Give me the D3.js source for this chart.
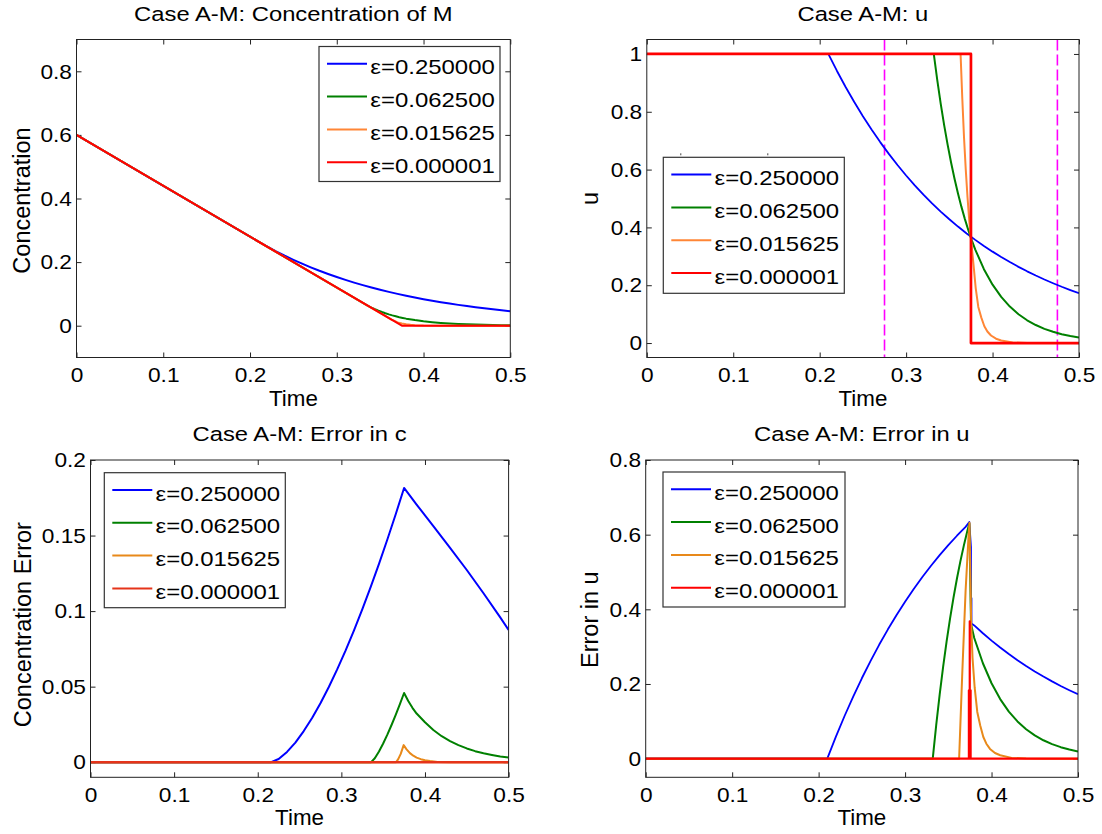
<!DOCTYPE html>
<html>
<head>
<meta charset="utf-8">
<script src="https://cdn.jsdelivr.net/npm/d3@7"></script>
<style>
  html, body { margin: 0; padding: 0; background: #fff; }
  svg { display: block; }
  text { font-family: "Liberation Sans", Arial, Helvetica, sans-serif; fill: #000; }
</style>
</head>
<body>
<svg id="chart" width="1102" height="834"></svg>
<script>
// ---------------- DATA ----------------
const legendLabels = ["ε=0.250000", "ε=0.062500", "ε=0.015625", "ε=0.000001"];
const xTicks = [0, 0.1, 0.2, 0.3, 0.4, 0.5];

// Panel 1: Concentration of M
const concBlue = [[0,0.6],[0.1,0.44],[0.21,0.264],[0.22,0.2485],[0.23,0.2339],[0.24,0.2201],[0.25,0.2072],[0.26,0.195],[0.27,0.1835],[0.28,0.1727],[0.29,0.1626],[0.3,0.153],[0.31,0.144],[0.32,0.1355],[0.33,0.1276],[0.34,0.1201],[0.35,0.113],[0.36,0.1064],[0.37,0.1001],[0.38,0.0942],[0.39,0.0887],[0.4,0.0835],[0.41,0.0786],[0.42,0.0739],[0.43,0.0696],[0.44,0.0655],[0.45,0.0616],[0.46,0.058],[0.47,0.0546],[0.48,0.0514],[0.49,0.0484],[0.5,0.0455]];
const concGreen = [[0,0.6],[0.2,0.28],[0.332,0.0688],[0.336,0.0626],[0.34,0.057],[0.344,0.0519],[0.348,0.0472],[0.352,0.043],[0.356,0.0391],[0.36,0.0356],[0.364,0.0324],[0.368,0.0295],[0.372,0.0268],[0.376,0.0244],[0.38,0.0222],[0.39,0.0176],[0.4,0.0139],[0.41,0.011],[0.42,0.0087],[0.43,0.0069],[0.44,0.0054],[0.45,0.0043],[0.46,0.0034],[0.47,0.0027],[0.48,0.0021],[0.49,0.0017],[0.5,0.0013]];
const concOrange = [[0,0.6],[0.363,0.0192],[0.366,0.0158],[0.37,0.0105],[0.375,0.0068],[0.38,0.0044],[0.385,0.0028],[0.39,0.0018],[0.4,0.0008],[0.42,0.0001],[0.5,0]];
const concRed = [[0,0.6],[0.375,0],[0.5,0]];
const concYTicks = [0, 0.2, 0.4, 0.6, 0.8];

// Panel 2: u
const uBlue = [[0,1],[0.21,1],[0.22,0.9412],[0.23,0.8858],[0.24,0.8338],[0.25,0.7847],[0.26,0.7386],[0.27,0.6951],[0.28,0.6543],[0.29,0.6158],[0.3,0.5796],[0.31,0.5455],[0.32,0.5134],[0.33,0.4832],[0.34,0.4548],[0.35,0.4281],[0.36,0.4029],[0.37,0.3792],[0.38,0.3569],[0.39,0.3359],[0.4,0.3162],[0.41,0.2976],[0.42,0.2801],[0.43,0.2636],[0.44,0.2481],[0.45,0.2335],[0.46,0.2198],[0.47,0.2069],[0.48,0.1947],[0.49,0.1833],[0.5,0.1725]];
const uGreen = [[0,1],[0.332,1],[0.336,0.9102],[0.34,0.8284],[0.344,0.754],[0.348,0.6863],[0.352,0.6247],[0.356,0.5686],[0.36,0.5175],[0.364,0.471],[0.368,0.4287],[0.372,0.3902],[0.376,0.3552],[0.38,0.3233],[0.39,0.2555],[0.4,0.2019],[0.41,0.1596],[0.42,0.1261],[0.43,0.0997],[0.44,0.0788],[0.45,0.0623],[0.46,0.0492],[0.47,0.0389],[0.48,0.0307],[0.49,0.0243],[0.5,0.0192]];
const uOrange = [[0,1],[0.363,1],[0.365,0.845],[0.367,0.71],[0.369,0.6],[0.371,0.505],[0.373,0.425],[0.375,0.362],[0.378,0.27],[0.3805,0.19],[0.3835,0.125],[0.387,0.088],[0.3905,0.058],[0.394,0.04],[0.3982,0.026],[0.404,0.015],[0.41,0.009],[0.4233,0.002],[0.44,0.0004],[0.46,0],[0.5,0]];
const uRed = [[0,1],[0.375,1],[0.375,0],[0.5,0]];
const uMarkerTimes = [0.275, 0.475];
const uYTicks = [0, 0.2, 0.4, 0.6, 0.8, 1];

// Panel 3: Error in c
const errCBlue = [[0,0],[0.216,0],[0.225,0.0021],[0.235,0.0068],[0.245,0.013],[0.255,0.0206],[0.265,0.0293],[0.275,0.039],[0.285,0.0498],[0.295,0.0614],[0.305,0.0738],[0.315,0.0871],[0.325,0.1011],[0.335,0.1158],[0.345,0.1313],[0.355,0.1474],[0.365,0.1641],[0.375,0.1815],[0.39,0.1705],[0.41,0.1562],[0.43,0.1418],[0.45,0.1272],[0.47,0.1118],[0.49,0.0958],[0.5,0.0875]];
const errCGreen = [[0,0],[0.3356,0],[0.34,0.0026],[0.345,0.0071],[0.35,0.0124],[0.355,0.0182],[0.36,0.0246],[0.365,0.0313],[0.37,0.0384],[0.375,0.0458],[0.38,0.0405],[0.385,0.036],[0.39,0.0322],[0.4,0.0264],[0.41,0.0213],[0.42,0.0172],[0.43,0.014],[0.44,0.0113],[0.45,0.0091],[0.46,0.0073],[0.47,0.0059],[0.48,0.0048],[0.49,0.0038],[0.5,0.0031]];
const errCOrange = [[0,0],[0.3655,0],[0.368,0.002],[0.371,0.0055],[0.3745,0.0113],[0.378,0.0085],[0.382,0.006],[0.386,0.0043],[0.39,0.003],[0.395,0.002],[0.4,0.0013],[0.406,0.0008],[0.415,0.0002],[0.43,0],[0.5,0]];
const errCRed = [[0,0],[0.5,0]];
const errCYTicks = [0, 0.05, 0.1, 0.15, 0.2];

// Panel 4: Error in u
const errUBlue = [[0,0],[0.21,0],[0.22,0.0588],[0.23,0.1142],[0.24,0.1662],[0.25,0.2153],[0.26,0.2614],[0.27,0.3049],[0.28,0.3457],[0.29,0.3842],[0.3,0.4204],[0.31,0.4545],[0.32,0.4866],[0.33,0.5168],[0.34,0.5452],[0.35,0.5719],[0.36,0.5971],[0.37,0.6208],[0.3743,0.634],[0.3762,0.567],[0.3762,0.43],[0.3768,0.43],[0.3768,0.362],[0.38,0.3569],[0.39,0.3359],[0.4,0.3162],[0.41,0.2976],[0.42,0.2801],[0.43,0.2636],[0.44,0.2481],[0.45,0.2335],[0.46,0.2198],[0.47,0.2069],[0.48,0.1947],[0.49,0.1833],[0.5,0.1725]];
const errUGreen = [[0,0],[0.332,0],[0.336,0.0898],[0.34,0.1716],[0.344,0.246],[0.348,0.3137],[0.352,0.3753],[0.356,0.4314],[0.36,0.4825],[0.364,0.529],[0.368,0.5713],[0.372,0.6098],[0.3743,0.63],[0.3763,0.36],[0.38,0.3233],[0.39,0.2555],[0.4,0.2019],[0.41,0.1596],[0.42,0.1261],[0.43,0.0997],[0.44,0.0788],[0.45,0.0623],[0.46,0.0492],[0.47,0.0389],[0.48,0.0307],[0.49,0.0243],[0.5,0.0192]];
const errUOrange = [[0,0],[0.3625,0],[0.366,0.22],[0.37,0.45],[0.3735,0.6],[0.3745,0.632],[0.3765,0.36],[0.378,0.27],[0.3805,0.19],[0.3835,0.125],[0.387,0.088],[0.3905,0.058],[0.394,0.04],[0.3982,0.026],[0.404,0.015],[0.41,0.009],[0.4233,0.002],[0.44,0.0004],[0.46,0],[0.5,0]];
const errURed = [[0,0],[0.3738,0],[0.3738,0.183],[0.3738,0],[0.3748,0],[0.3748,0.368],[0.3748,0],[0.3758,0],[0.3758,0.183],[0.3758,0],[0.5,0]];
const errUYTicks = [0, 0.2, 0.4, 0.6, 0.8];

// ---------------- STYLE / LAYOUT ----------------
const topColors = ["#0000ff", "#008000", "#ff8636", "#ff0000"];
const botColors = ["#0000ff", "#008000", "#e8891a", "#e5341a"];
const botColorsU = ["#0000ff", "#008000", "#e8891a", "#ff0000"];

const panels = [
  { title: "Case A-M: Concentration of M", ylabel: "Concentration", ylabelOff: 47, ylabelDy: 2,
    box: [76.5, 510.3, 39.5, 357.5], ydom: [-0.1, 0.9], yticks: concYTicks,
    series: [concBlue, concGreen, concOrange, concRed], colors: topColors, widths: [2, 2, 2, 2],
    legend: [319, 46.5, 181, 135] },
  { title: "Case A-M: u", ylabel: "u", ylabelOff: 49.3, ylabelDy: 0,
    box: [646.8, 1079, 39.5, 357.5], ydom: [-0.05, 1.05], yticks: uYTicks,
    series: [uBlue, uGreen, uOrange, uRed], colors: topColors, widths: [1.8, 2, 2, 2.7],
    legend: [663.3, 157.3, 181, 136], markers: uMarkerTimes, legendTicks: true },
  { title: "Case A-M: Error in c", ylabel: "Concentration Error", ylabelOff: 59.6, ylabelDy: 6,
    box: [90.5, 508.6, 460, 777.3], ydom: [-0.01, 0.2], yticks: errCYTicks,
    series: [errCBlue, errCGreen, errCOrange, errCRed], colors: botColors, widths: [2, 2, 2, 2.6],
    legend: [104.3, 472.7, 181, 135] },
  { title: "Case A-M: Error in u", ylabel: "Error in u", ylabelOff: 48.2, ylabelDy: 1,
    box: [645.7, 1078, 460, 777.3], ydom: [-0.05, 0.8], yticks: errUYTicks,
    series: [errUBlue, errUGreen, errUOrange, errURed], colors: botColorsU, widths: [1.8, 2, 2, 2.2],
    legend: [663, 472, 182, 135] }
];

const svg = d3.select("#chart");
const fmt = d3.format("~g");

function stretch(sel, f) {
  sel.each(function () {
    const L = this.getComputedTextLength();
    if (L > 0) {
      this.setAttribute("textLength", (L * f).toFixed(2));
      this.setAttribute("lengthAdjust", "spacingAndGlyphs");
    }
  });
}

panels.forEach((p, pi) => {
  const [x0, x1, y0, y1] = p.box;
  const x = d3.scaleLinear().domain([0, 0.5]).range([x0, x1]);
  const y = d3.scaleLinear().domain(p.ydom).range([y1, y0]);
  const g = svg.append("g");

  const cid = "clip" + pi;
  svg.append("clipPath").attr("id", cid).append("rect")
    .attr("x", x0).attr("y", y0).attr("width", x1 - x0).attr("height", y1 - y0);

  // axes (MATLAB style: inward ticks on all four sides)
  const bottom = g.append("g").attr("transform", `translate(0,${y1})`)
    .call(d3.axisBottom(x).tickValues(xTicks).tickFormat(fmt).tickSize(-5).tickSizeOuter(0).tickPadding(9.3));
  const top = g.append("g").attr("transform", `translate(0,${y0})`)
    .call(d3.axisTop(x).tickValues(xTicks).tickFormat("").tickSize(-5).tickSizeOuter(0));
  const left = g.append("g").attr("transform", `translate(${x0},0)`)
    .call(d3.axisLeft(y).tickValues(p.yticks).tickFormat(fmt).tickSize(-5).tickSizeOuter(0).tickPadding(4.6));
  const right = g.append("g").attr("transform", `translate(${x1},0)`)
    .call(d3.axisRight(y).tickValues(p.yticks).tickFormat("").tickSize(-5).tickSizeOuter(0));
  [bottom, top, left, right].forEach(a => {
    a.select(".domain").remove();
    a.selectAll("line").attr("stroke", "#222").attr("stroke-width", 1);
    a.selectAll("text").attr("font-size", 21).attr("font-family", "Liberation Sans, Arial, sans-serif").attr("fill", "#000");
  });
  stretch(bottom.selectAll("text"), 1.08);
  stretch(left.selectAll("text"), 1.08);

  // series
  const line = d3.line().x(d => x(d[0])).y(d => y(d[1]));
  const plot = g.append("g").attr("clip-path", `url(#${cid})`);
  if (p.markers) {
    plot.selectAll("line.mk").data(p.markers).join("line")
      .attr("x1", d => x(d)).attr("x2", d => x(d))
      .attr("y1", y0).attr("y2", y1)
      .attr("stroke", "#ff00ff").attr("stroke-width", 1.6).attr("stroke-dasharray", "11,4");
  }
  p.series.forEach((s, i) => {
    plot.append("path").datum(s).attr("d", line)
      .attr("fill", "none").attr("stroke", p.colors[i]).attr("stroke-width", p.widths[i])
      .attr("stroke-linejoin", "round");
  });

  // frame
  g.append("rect").attr("x", x0).attr("y", y0).attr("width", x1 - x0).attr("height", y1 - y0)
    .attr("fill", "none").attr("stroke", "#222").attr("stroke-width", 1);

  // title
  const t = g.append("text").attr("x", (x0 + x1) / 2).attr("y", y0 - 19)
    .attr("text-anchor", "middle").attr("font-size", 20.5).text(p.title);
  stretch(t, 1.16);
  // x label
  const xl = g.append("text").attr("x", (x0 + x1) / 2).attr("y", y1 + 48)
    .attr("text-anchor", "middle").attr("font-size", 21.5).text("Time");
  stretch(xl, 1.04);
  // y label
  g.append("text").attr("transform", `translate(${x0 - p.ylabelOff},${(y0 + y1) / 2 + p.ylabelDy}) rotate(-90)`)
    .attr("text-anchor", "middle").attr("font-size", 23.5).text(p.ylabel);

  // legend
  const [lx, ly, lw, lh] = p.legend;
  const lg = g.append("g");
  if (p.legendTicks) {
    [lx + 17.5, lx + 104.5].forEach(tx => {
      lg.append("line").attr("x1", tx).attr("x2", tx).attr("y1", ly - 4).attr("y2", ly - 2)
        .attr("stroke", "#444").attr("stroke-width", 1);
    });
  }
  lg.append("rect").attr("x", lx).attr("y", ly).attr("width", lw).attr("height", lh)
    .attr("fill", "#fff").attr("stroke", "#333").attr("stroke-width", 1.2);
  legendLabels.forEach((lab, i) => {
    const yy = ly + 17.3 + i * 32.8;
    lg.append("line").attr("x1", lx + 8).attr("x2", lx + 48).attr("y1", yy).attr("y2", yy)
      .attr("stroke", p.colors[i]).attr("stroke-width", 2);
    const tx = lg.append("text").attr("x", lx + 51.3).attr("y", yy + 10.5).attr("font-size", 21).text(lab);
    stretch(tx, 1.14);
  });
});
</script>
</body>
</html>
